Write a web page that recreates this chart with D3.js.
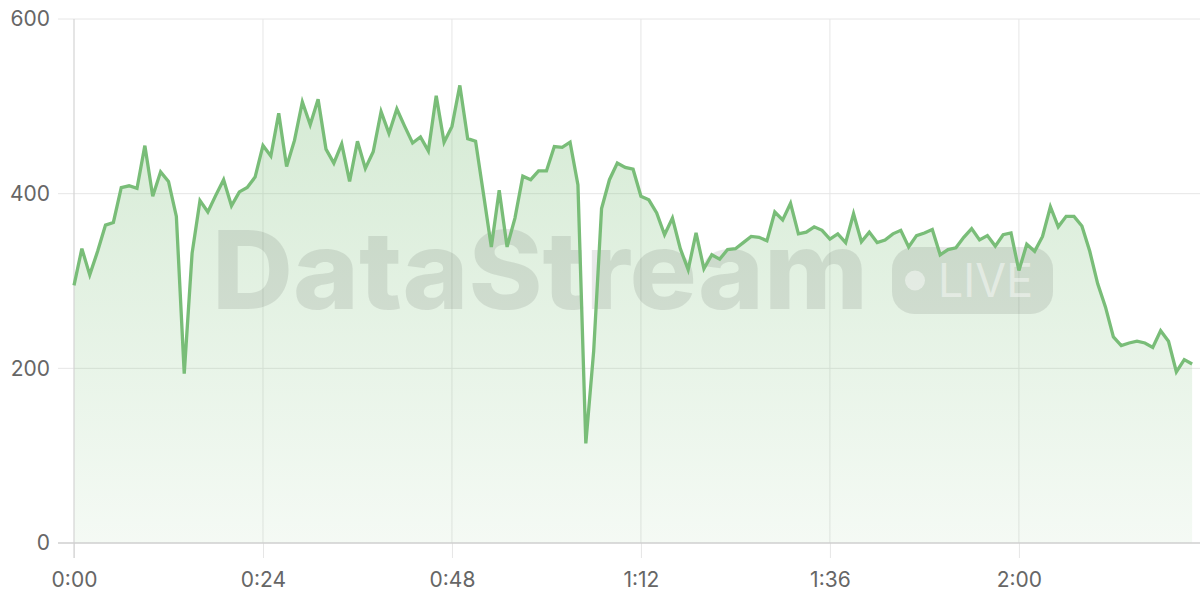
<!DOCTYPE html>
<html>
<head>
<meta charset="utf-8">
<script src="https://cdn.jsdelivr.net/npm/d3@7"></script>
<style>
  html, body { margin: 0; padding: 0; background: #fff; }
  svg { display: block; }
</style>
</head>
<body>
<svg id="chart" width="1200" height="600"></svg>
<script>
// ---- data ----
const values = [
  295, 337, 307, 334, 364, 367, 407, 409, 406, 455,
  397, 425, 414, 374, 194, 332, 392, 379, 398, 416,
  386, 402, 407, 419, 455, 443, 492, 431, 461, 505,
  479, 508, 451, 435, 457, 414, 460, 429, 448, 494,
  469, 497, 477, 458, 465, 449, 512, 459, 477, 524,
  463, 460, 400, 339, 404, 339, 372, 420, 416, 426,
  426, 454, 453, 459, 410, 114, 220, 383, 416, 435,
  430, 428, 397, 393, 378, 353, 372, 337, 313, 355,
  314, 330, 325, 336, 337, 344, 351, 350, 346, 379,
  370, 389, 354, 356, 362, 358, 348, 354, 344, 377,
  345, 356, 344, 347, 354, 358, 339, 352, 355, 359,
  330, 336, 338, 350, 360, 347, 352, 340, 353, 355,
  312, 342, 334, 351, 385, 362, 374, 374, 363, 334,
  297, 270, 236, 226, 229, 231, 229, 224, 243, 231,
  196, 210, 205
];
const minutes = values.map((v, i) => i);           // one sample per minute
const xTickValues = [0, 24, 48, 72, 96, 120];
const xTickLabels = ["0:00", "0:24", "0:48", "1:12", "1:36", "2:00"];
const yTickValues = [0, 200, 400, 600];
const xDomainEnd = 143;

(function () {
const data = minutes.map((m, i) => ({ t: m, v: values[i] }));

const svg = d3.select("#chart");
const L = 74, R = 1200, T = 19, B = 543;
const x = d3.scaleLinear().domain([0, xDomainEnd]).range([L, R]);
const y = d3.scaleLinear().domain([0, 600]).range([B, T]);

const FONT = "Inter, 'Helvetica Neue', Arial, sans-serif";

const defs = svg.append("defs");
const grad = defs.append("linearGradient")
  .attr("id", "areaGrad")
  .attr("gradientUnits", "userSpaceOnUse")
  .attr("x1", 0).attr("y1", y(520)).attr("x2", 0).attr("y2", y(0));
grad.append("stop").attr("offset", "0%").attr("stop-color", "#7cbf7a").attr("stop-opacity", 0.32);
grad.append("stop").attr("offset", "100%").attr("stop-color", "#7cbf7a").attr("stop-opacity", 0.08);

// y axis labels
const gy = svg.append("g").attr("transform", `translate(${L - 16},0)`);
gy.call(d3.axisLeft(y).tickValues(yTickValues).tickSize(0).tickPadding(8));
gy.select(".domain").remove();
gy.selectAll(".tick line").remove();
gy.selectAll(".tick text")
  .attr("font-family", FONT).attr("font-size", 21).attr("fill", "#666");

// horizontal grid
svg.append("g").selectAll("line").data(yTickValues.filter(d => d !== 0)).join("line")
  .attr("x1", L - 16).attr("x2", R)
  .attr("y1", d => y(d)).attr("y2", d => y(d))
  .attr("stroke", "#e6e6e6").attr("stroke-width", 1);

// x axis ticks + labels
const gx = svg.append("g").attr("transform", `translate(0,${B})`);
gx.call(d3.axisBottom(x).tickValues(xTickValues)
  .tickFormat((d, i) => xTickLabels[i]).tickSize(15).tickPadding(14));
gx.select(".domain").remove();
gx.selectAll(".tick line").attr("stroke", "#e6e6e6");
gx.selectAll(".tick text").attr("font-family", FONT).attr("font-size", 21).attr("fill", "#666");

// vertical grid
svg.append("g").selectAll("line").data(xTickValues.filter(d => d !== 0)).join("line")
  .attr("x1", d => x(d)).attr("x2", d => x(d))
  .attr("y1", T).attr("y2", B)
  .attr("stroke", "#e6e6e6").attr("stroke-width", 1);

// area
const area = d3.area().x(d => x(d.t)).y0(y(0)).y1(d => y(d.v));
svg.append("path").datum(data).attr("d", area).attr("fill", "url(#areaGrad)");

// watermark
const wm = svg.append("g").attr("pointer-events", "none");
wm.append("text")
  .attr("x", 212).attr("y", 309)
  .attr("font-family", FONT).attr("font-weight", 800).attr("font-size", 108)
  .attr("textLength", 656).attr("lengthAdjust", "spacingAndGlyphs")
  .attr("fill", "#000").attr("fill-opacity", 0.09)
  .text("DataStream");
wm.append("rect")
  .attr("x", 892).attr("y", 247).attr("width", 161).attr("height", 67).attr("rx", 22)
  .attr("fill", "#000").attr("fill-opacity", 0.09);
wm.append("circle").attr("cx", 915).attr("cy", 280.5).attr("r", 10)
  .attr("fill", "#fff").attr("fill-opacity", 0.45);
wm.append("text")
  .attr("x", 938).attr("y", 297)
  .attr("font-family", FONT).attr("font-weight", 400).attr("font-size", 46)
  .attr("textLength", 95).attr("lengthAdjust", "spacingAndGlyphs")
  .attr("fill", "#fff").attr("fill-opacity", 0.45)
  .text("LIVE");

// y axis line and baseline
svg.append("line").attr("x1", L).attr("x2", L).attr("y1", T).attr("y2", B + 15)
  .attr("stroke", "#d4d4d4").attr("stroke-width", 1.2);
svg.append("line").attr("x1", L - 16).attr("x2", R).attr("y1", B).attr("y2", B)
  .attr("stroke", "#cfcfcf").attr("stroke-width", 1.5);

// line
const line = d3.line().x(d => x(d.t)).y(d => y(d.v));
svg.append("path").datum(data).attr("d", line)
  .attr("fill", "none").attr("stroke", "#79bd78").attr("stroke-width", 3.3)
  .attr("stroke-linejoin", "miter").attr("stroke-miterlimit", 4);
})();
</script>
</body>
</html>
